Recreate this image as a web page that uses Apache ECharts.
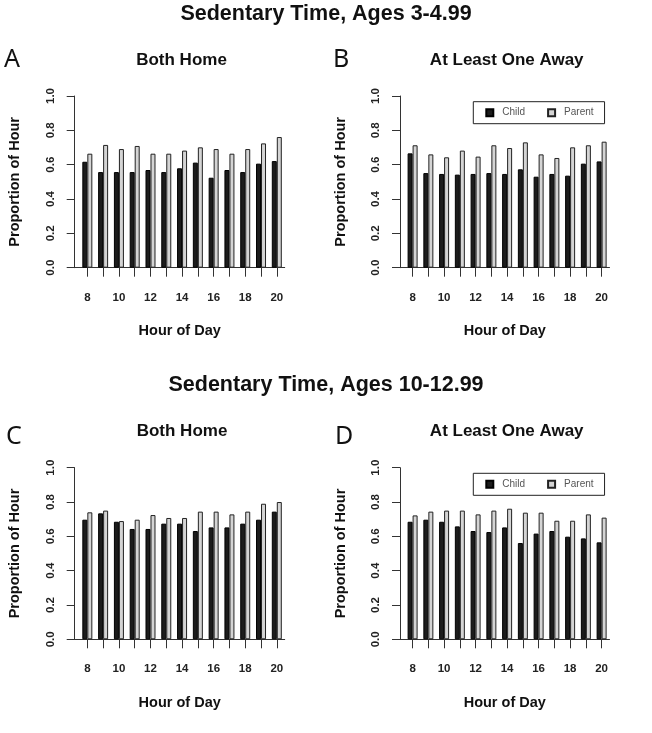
<!DOCTYPE html>
<html>
<head>
<meta charset="utf-8">
<script src="https://cdn.jsdelivr.net/npm/echarts@6/dist/echarts.min.js"></script>
<style>
html,body{margin:0;padding:0;background:#fff;}
#chart{width:652px;height:733px;}
</style>
</head>
<body>
<div id="chart"></div>
<script>
// ---- data ----
var hours = [8, 9, 10, 11, 12, 13, 14, 15, 16, 17, 18, 19, 20];
var hourLabels = [8, 10, 12, 14, 16, 18, 20];
var yTicks = [0, 0.2, 0.4, 0.6, 0.8, 1.0];
var seriesNames = ['Child', 'Parent'];

var childA  = [0.617, 0.557, 0.557, 0.557, 0.569, 0.557, 0.579, 0.612, 0.524, 0.569, 0.557, 0.606, 0.621];
var parentA = [0.664, 0.715, 0.691, 0.709, 0.664, 0.664, 0.682, 0.701, 0.691, 0.664, 0.691, 0.724, 0.761];
var childB  = [0.666, 0.551, 0.546, 0.542, 0.546, 0.551, 0.546, 0.573, 0.530, 0.546, 0.536, 0.606, 0.619];
var parentB = [0.713, 0.660, 0.643, 0.682, 0.647, 0.713, 0.697, 0.730, 0.660, 0.639, 0.701, 0.713, 0.734];
var childC  = [0.697, 0.734, 0.685, 0.643, 0.643, 0.674, 0.674, 0.631, 0.652, 0.652, 0.674, 0.697, 0.744];
var parentC = [0.740, 0.750, 0.689, 0.697, 0.724, 0.707, 0.707, 0.744, 0.744, 0.728, 0.744, 0.790, 0.800];
var childD  = [0.685, 0.697, 0.685, 0.658, 0.631, 0.625, 0.652, 0.561, 0.616, 0.631, 0.598, 0.588, 0.565];
var parentD = [0.722, 0.744, 0.750, 0.750, 0.728, 0.750, 0.761, 0.738, 0.738, 0.691, 0.691, 0.728, 0.709];

var mainTitles = ['Sedentary Time, Ages 3-4.99', 'Sedentary Time, Ages 10-12.99'];
var panelLetters = ['A', 'B', 'C', 'D'];
var panelTitles = ['Both Home', 'At Least One Away', 'Both Home', 'At Least One Away'];
var xName = 'Hour of Day';
var yName = 'Proportion of Hour';

// ---- layout ----
var panels = [
  {child: childA, parent: parentA, grid: {left: 74.7, top: 96, width: 210, height: 171.7}, legend: false},
  {child: childB, parent: parentB, grid: {left: 400, top: 96, width: 209.5, height: 171.7}, legend: true, legendTop: 101.7},
  {child: childC, parent: parentC, grid: {left: 74.7, top: 467.7, width: 210, height: 171.6}, legend: false},
  {child: childD, parent: parentD, grid: {left: 400, top: 467.7, width: 209.5, height: 171.6}, legend: true, legendTop: 473.3}
];

var BOLD = 'Liberation Sans, Arial, sans-serif';
var axisColor = '#333';
var childStyle = {color: '#1c1c1c', borderColor: '#000', borderWidth: 1};
var parentStyle = {color: '#d4d4d4', borderColor: '#222', borderWidth: 1};

function pairs(xs, ys) {
  return xs.map(function (x, i) { return [x, ys[i]]; });
}

var grids = [], xAxes = [], yAxes = [], series = [], legends = [], titles = [];

panels.forEach(function (p, i) {
  grids.push(p.grid);
  xAxes.push({
    type: 'value', gridIndex: i, min: 7.2, max: 20.5,
    splitLine: {show: false},
    axisLine: {show: true, onZero: false, lineStyle: {color: axisColor, width: 1}},
    axisTick: {show: true, customValues: hours, length: 9, lineStyle: {color: axisColor}},
    axisLabel: {customValues: hourLabels, fontFamily: BOLD, fontWeight: 'bold', fontSize: 11.5, color: '#222', margin: 24},
    name: xName, nameLocation: 'middle', nameGap: 56,
    nameTextStyle: {fontFamily: BOLD, fontWeight: 'bold', fontSize: 14.5, color: '#111'}
  });
  yAxes.push({
    type: 'value', gridIndex: i, min: 0, max: 1, interval: 0.2,
    splitLine: {show: false},
    axisLine: {show: true, lineStyle: {color: axisColor, width: 1}},
    axisTick: {show: true, length: 8, lineStyle: {color: axisColor}},
    axisLabel: {rotate: 90, fontFamily: BOLD, fontWeight: 'bold', fontSize: 11.5, color: '#222', margin: 18,
      formatter: function (v) { return v.toFixed(1); }},
    name: yName, nameLocation: 'middle', nameGap: 52, nameRotate: 90,
    nameTextStyle: {fontFamily: BOLD, fontWeight: 'bold', fontSize: 14.5, color: '#111'}
  });
  series.push({
    name: seriesNames[0], type: 'bar', xAxisIndex: i, yAxisIndex: i,
    data: pairs(hours, p.child), barWidth: 5, barGap: '0%',
    itemStyle: childStyle, silent: true, animation: false
  });
  series.push({
    name: seriesNames[1], type: 'bar', xAxisIndex: i, yAxisIndex: i,
    data: pairs(hours, p.parent), barWidth: 5, barGap: '0%',
    itemStyle: parentStyle, silent: true, animation: false
  });
  if (p.legend) {
    legends.push({
      data: seriesNames, left: 473.3, top: p.legendTop, orient: 'horizontal',
      icon: 'rect', itemWidth: 7, itemHeight: 7, itemGap: 22,
      padding: [6, 11, 6, 12], borderColor: '#222', borderWidth: 1, backgroundColor: '#fff',
      selectedMode: false,
      textStyle: {fontFamily: 'Liberation Sans, Arial, sans-serif', fontSize: 10, color: '#555', padding: [0, 0, 0, 4]}
    });
  }
});

// titles
titles.push({text: mainTitles[0], left: 326, top: 3.5, textAlign: 'center', padding: 0,
  textStyle: {fontFamily: BOLD, fontWeight: 'bold', fontSize: 21.5, color: '#111'}});
titles.push({text: mainTitles[1], left: 326, top: 374.5, textAlign: 'center', padding: 0,
  textStyle: {fontFamily: BOLD, fontWeight: 'bold', fontSize: 21.5, color: '#111'}});
var letterPos = [[4, 47.5], [333, 47.5], [6, 424.5], [335, 424.5]];
var subPos = [[181.5, 52], [506.7, 52], [182, 423], [506.7, 423]];
panelLetters.forEach(function (l, i) {
  titles.push({text: l, left: letterPos[i][0], top: letterPos[i][1], padding: 0,
    textStyle: {fontFamily: 'Noto Sans, Open Sans, sans-serif', fontWeight: 'normal', fontSize: 25, color: '#111'}});
  titles.push({text: panelTitles[i], left: subPos[i][0], top: subPos[i][1], textAlign: 'center', padding: 0,
    textStyle: {fontFamily: BOLD, fontWeight: 'bold', fontSize: 17, color: '#111'}});
});

var chart = echarts.init(document.getElementById('chart'), null, {renderer: 'canvas'});
chart.setOption({
  backgroundColor: '#fff',
  animation: false,
  title: titles,
  legend: legends,
  grid: grids,
  xAxis: xAxes,
  yAxis: yAxes,
  series: series
});
</script>
</body>
</html>
